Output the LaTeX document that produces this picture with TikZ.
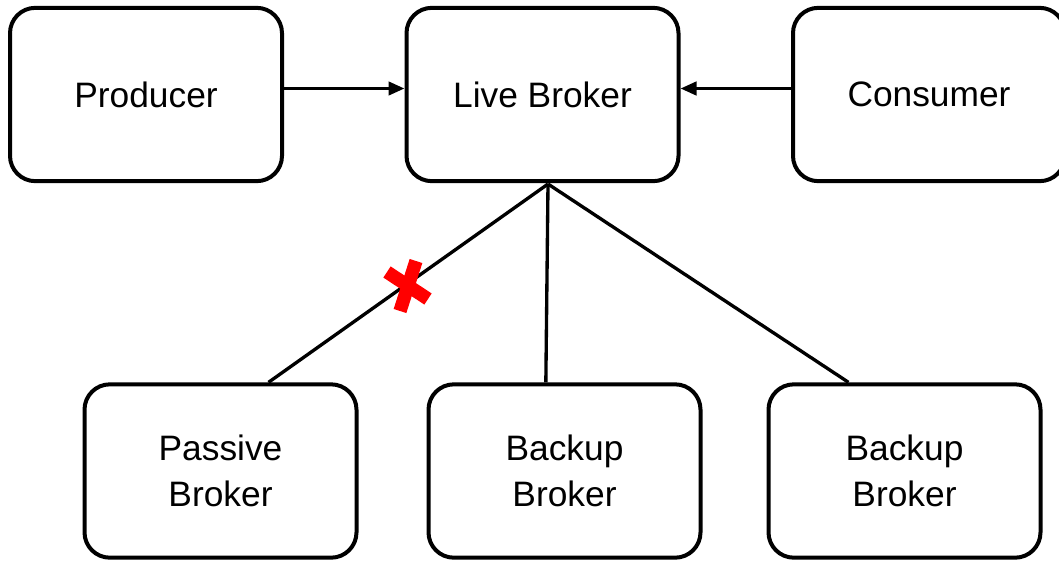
\documentclass[tikz,border=0pt]{standalone}
\usepackage{fontspec}
\setmainfont{Liberation Sans}
\usetikzlibrary{arrows.meta}
\begin{document}
\begin{tikzpicture}[x=0.75pt,y=-0.75pt,
  box/.style={draw=black,line width=3pt,rounded corners=19pt,fill=white,
    minimum width=204pt,minimum height=130pt,inner sep=0pt,align=center,
    font=\fontsize{26.5}{34}\selectfont},
  link/.style={draw=black,line width=2.5pt},
  flow/.style={link,-{Triangle[length=12pt,width=10pt]}},
  cross/.style={draw=red,line width=10pt,line cap=butt}]
\useasboundingbox (0,0) rectangle (1059,561);

% top row
\node[box] (producer) at (146,94.5) {Producer};
\node[box] (live) at (542.5,94.5) {Live Broker};
\node[box] (consumer) at (929,94.5) {Consumer};

% bottom row
\node[box] (passive) at (220.5,471) {Passive\\Broker};
\node[box] (backupA) at (564.5,471) {Backup\\Broker};
\node[box] (backupB) at (904.5,471) {Backup\\Broker};

% client connections
\draw[flow] ([yshift=4.5pt]producer.east) -- ([yshift=4.5pt]live.west);
\draw[flow] ([yshift=4.5pt]consumer.west) -- ([yshift=4.5pt]live.east);

% replication links
\coordinate (hub) at (548,184);
\draw[link] (hub) -- ([xshift=36pt]passive.north);
\draw[link] (hub) -- ([xshift=-14pt]backupA.north);
\draw[link] (hub) -- ([xshift=-42pt]backupB.north);

% broken link marker
\coordinate (mark) at (407,286);
\draw[cross] ([shift={(-20,-14)}]mark) -- ([shift={(21,13)}]mark);
\draw[cross] ([shift={(9,-25)}]mark) -- ([shift={(-7,25)}]mark);
\end{tikzpicture}
\end{document}
